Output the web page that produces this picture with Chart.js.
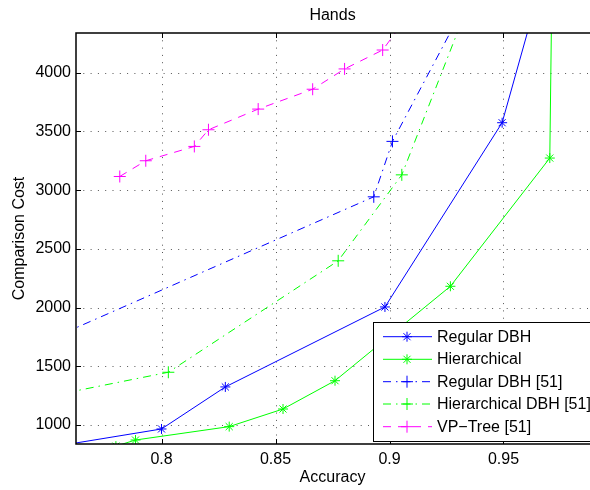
<!DOCTYPE html>
<html lang="en">
<head>
  <meta charset="UTF-8">
  <title>Hands</title>
  <script src="https://cdn.jsdelivr.net/npm/chart.js"></script>
  <style>
    html, body { margin: 0; padding: 0; background: #fff; overflow: hidden; }
    #wrap { width: 596px; height: 490px; }
  </style>
</head>
<body>
  <div id="wrap">
    <canvas id="handsChart" width="596" height="490"></canvas>
  </div>

  <script>
    // tick values
    const xTicks = [0.8, 0.85, 0.9, 0.95];
    const yTicks = [1000, 1500, 2000, 2500, 3000, 3500, 4000];

    // series (first / last points lie outside the visible window)
    const regularX = [0.75, 0.8, 0.828, 0.898, 0.9494, 0.97];
    const regularY = [807, 966, 1324, 2005, 3574, 5000];

    const hierX = [0.78, 0.7886, 0.8297, 0.8533, 0.8761, 0.9267, 0.9703, 0.9714];
    const hierY = [820, 872, 986, 1136, 1377, 2181, 3273, 5000];

    const regular51X = [0.75, 0.8931, 0.9013, 0.94];
    const regular51Y = [1721, 2943, 3415, 4830];

    const hier51X = [0.75, 0.803, 0.8775, 0.9054, 0.943];
    const hier51Y = [1242, 1449, 2398, 3130, 5000];

    const vpX = [0.7817, 0.7931, 0.8144, 0.8206, 0.8424, 0.8663, 0.8803, 0.897, 0.92];
    const vpY = [3116, 3250, 3372, 3514, 3690, 3859, 4032, 4193, 4800];

    const FONT = "'Liberation Sans', Arial, sans-serif";
    const FSIZE = 16;

    function pts(xs, ys) {
      return xs.map((x, i) => ({ x: x, y: ys[i] }));
    }

    function series(label, xs, ys, color, dash, marker) {
      return {
        label: label,
        data: pts(xs, ys),
        borderColor: color,
        backgroundColor: color,
        borderWidth: 1,
        borderDash: dash,
        showLine: true,
        tension: 0,
        clip: 0,
        pointStyle: marker,
        pointRadius: marker === 'star' ? 5 : 6,
        pointBorderWidth: 1,
        pointHoverRadius: 0
      };
    }

    const datasets = [
      series('Regular DBH', regularX, regularY, '#0000ff', [], 'star'),
      series('Hierarchical', hierX, hierY, '#00ff00', [], 'star'),
      series('Regular DBH [51]', regular51X, regular51Y, '#0000ff', [8, 5, 1.5, 5], 'cross'),
      series('Hierarchical DBH [51]', hier51X, hier51Y, '#00ff00', [8, 5, 1.5, 5], 'cross'),
      series('VP\u2212Tree [51]', vpX, vpY, '#ff00ff', [8, 7], 'cross')
    ];

    function marker(ctx, style, x, y) {
      const r = style === 'star' ? 5 : 6;
      const angles = style === 'star' ? [0, 45, 90, 135] : [0, 90];
      ctx.beginPath();
      angles.forEach(a => {
        const t = a * Math.PI / 180;
        ctx.moveTo(x - r * Math.cos(t), y - r * Math.sin(t));
        ctx.lineTo(x + r * Math.cos(t), y + r * Math.sin(t));
      });
      ctx.stroke();
    }

    // dotted grid, title, axes box, inward ticks and legend, MATLAB style
    const frame = {
      id: 'frame',
      beforeDraw(chart) {
        const ctx = chart.ctx;
        ctx.save();
        ctx.fillStyle = '#fff';
        ctx.fillRect(0, 0, chart.width, chart.height);
        ctx.restore();
      },
      beforeDatasetsDraw(chart) {
        const ctx = chart.ctx;
        const a = chart.chartArea;
        const xs = chart.scales.x, ys = chart.scales.y;
        ctx.save();
        ctx.strokeStyle = '#555';
        ctx.lineWidth = 1;
        ctx.setLineDash([1, 6.3]);
        ctx.beginPath();
        xTicks.forEach(v => {
          const p = Math.round(xs.getPixelForValue(v)) + 0.5;
          ctx.moveTo(p, a.top); ctx.lineTo(p, a.bottom);
        });
        yTicks.forEach(v => {
          const p = Math.round(ys.getPixelForValue(v)) + 0.5;
          ctx.moveTo(a.left, p); ctx.lineTo(a.right, p);
        });
        ctx.stroke();
        ctx.restore();
      },
      afterDatasetsDraw(chart) {
        const ctx = chart.ctx;
        const a = chart.chartArea;
        const xs = chart.scales.x, ys = chart.scales.y;
        ctx.save();

        // ticks
        ctx.strokeStyle = '#000';
        ctx.lineWidth = 1;
        ctx.beginPath();
        xTicks.forEach(v => {
          const p = Math.round(xs.getPixelForValue(v)) + 0.5;
          ctx.moveTo(p, a.bottom); ctx.lineTo(p, a.bottom - 5);
          ctx.moveTo(p, a.top); ctx.lineTo(p, a.top + 5);
        });
        yTicks.forEach(v => {
          const p = Math.round(ys.getPixelForValue(v)) + 0.5;
          ctx.moveTo(a.left, p); ctx.lineTo(a.left + 5, p);
        });
        ctx.stroke();

        // legend
        const lx = 373.5, ly = 322.5;
        ctx.fillStyle = '#fff';
        ctx.fillRect(lx, ly, chart.width - lx + 5, 441.5 - ly);
        ctx.lineWidth = 1;
        ctx.strokeStyle = '#000';
        ctx.strokeRect(lx, ly, chart.width - lx + 5, 441.5 - ly);
        const rows = [336.7, 359.3, 381.7, 404, 426.7];
        ctx.font = FSIZE + 'px ' + FONT;
        ctx.textBaseline = 'middle';
        ctx.textAlign = 'left';
        chart.data.datasets.forEach((ds, i) => {
          const y = rows[i];
          ctx.strokeStyle = ds.borderColor;
          ctx.lineWidth = 1;
          ctx.setLineDash(ds.borderDash);
          ctx.beginPath();
          ctx.moveTo(383, y); ctx.lineTo(432, y);
          ctx.stroke();
          ctx.setLineDash([]);
          marker(ctx, ds.pointStyle, 407, y);
          ctx.fillStyle = '#000';
          ctx.fillText(ds.label, 437, y + 0.5);
        });

        // axes box
        ctx.strokeStyle = '#000';
        ctx.lineWidth = 1.5;
        ctx.beginPath();
        ctx.moveTo(a.right + 2, a.top); ctx.lineTo(a.left, a.top);
        ctx.lineTo(a.left, a.bottom); ctx.lineTo(a.right + 2, a.bottom);
        ctx.stroke();

        // title
        ctx.fillStyle = '#000';
        ctx.textAlign = 'center';
        ctx.fillText('Hands', (a.left + a.right) / 2, 16);
        ctx.restore();
      }
    };

    const ctx = document.getElementById('handsChart').getContext('2d');
    Chart.defaults.color = '#000';
    Chart.defaults.font.family = FONT;
    Chart.defaults.font.size = FSIZE;

    const chart = new Chart(ctx, {
      type: 'scatter',
      data: { datasets: datasets },
      options: {
        responsive: false,
        animation: false,
        events: [],
        layout: { padding: { top: 33, right: 0, left: 0, bottom: 0 } },
        plugins: {
          legend: { display: false },
          title: { display: false },
          tooltip: { enabled: false }
        },
        scales: {
          x: {
            type: 'linear',
            min: 0.7625,
            max: 0.9875,
            afterBuildTicks: s => { s.ticks = xTicks.map(v => ({ value: v })); },
            afterFit: s => { s.height = 46; },
            ticks: {
              padding: 6, maxRotation: 0, autoSkip: false,
              callback: v => String(+v.toFixed(2))
            },
            grid: { display: false, drawTicks: false },
            border: { display: false },
            title: { display: true, text: 'Accuracy', padding: { top: 0, bottom: 3 } }
          },
          y: {
            type: 'linear',
            min: 838,
            max: 4338,
            afterBuildTicks: s => { s.ticks = yTicks.map(v => ({ value: v })); },
            afterFit: s => { s.width = 76; },
            ticks: {
              padding: 5, autoSkip: false,
              callback: v => String(v)
            },
            grid: { display: false, drawTicks: false },
            border: { display: false },
            title: { display: true, text: 'Comparison Cost', padding: { top: 10, bottom: 0 } }
          }
        }
      },
      plugins: [frame]
    });
  </script>
</body>
</html>
